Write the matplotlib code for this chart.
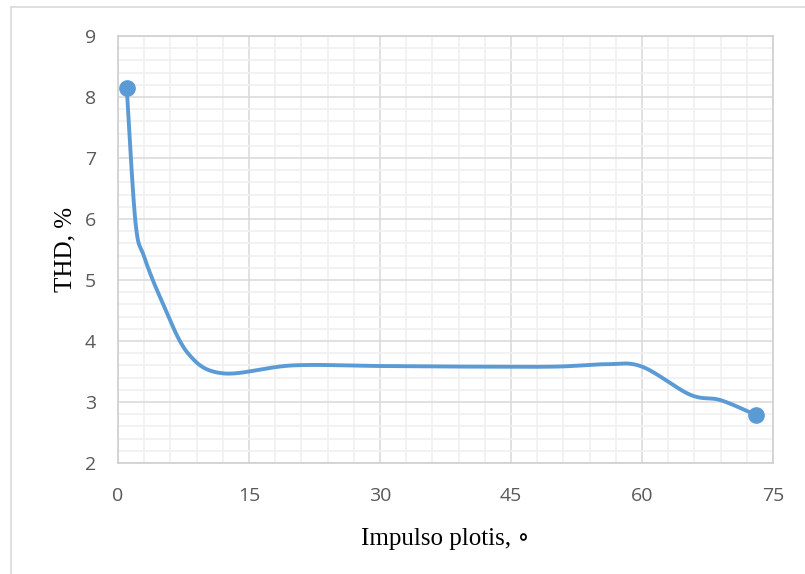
import numpy as np
import matplotlib.pyplot as plt
import matplotlib.patches as patches
from matplotlib.ticker import MultipleLocator

# data
angle = [1, 2, 3, 5, 8, 12, 20, 30, 40, 50, 56, 60, 65.5, 69, 73]
thd = [8.15, 5.95, 5.38, 4.66, 3.8, 3.47, 3.6, 3.59, 3.58, 3.58, 3.62, 3.58, 3.12, 3.03, 2.79]


def smooth(xs, ys, n=40):
    # Excel-like smoothed line (Catmull-Rom as cubic Bezier)
    p = np.column_stack([xs, ys]).astype(float)
    p = np.vstack([p[0], p, p[-1]])
    out = []
    t = np.linspace(0, 1, n)[:, None]
    for i in range(1, len(p) - 2):
        b0 = p[i]
        b1 = p[i] + (p[i + 1] - p[i - 1]) / 6
        b2 = p[i + 1] - (p[i + 2] - p[i]) / 6
        b3 = p[i + 1]
        seg = ((1 - t) ** 3) * b0 + 3 * ((1 - t) ** 2) * t * b1 + 3 * (1 - t) * t ** 2 * b2 + t ** 3 * b3
        out.append(seg)
    out = np.vstack(out)
    return out[:, 0], out[:, 1]


fig = plt.figure(figsize=(8.05, 5.74), dpi=100)
ax = fig.add_axes([118 / 805, 1 - 463 / 574, (773 - 118) / 805, (463 - 36) / 574])

# outer chart frame
fig.patches.append(patches.Rectangle((11 / 805, -0.05), 1.0, 1 - 7 / 574 + 0.05,
                                     transform=fig.transFigure, fill=False,
                                     edgecolor='#d9d9d9', linewidth=1.2))

sx, sy = smooth(angle, thd)
ax.plot(sx, sy, color='#5b9bd5', linewidth=2.8, solid_capstyle='round', zorder=3)
ax.plot([angle[0], angle[-1]], [thd[0], thd[-1]], 'o', color='#5b9bd5', markersize=11, zorder=4)

ax.set_xlim(0, 75)
ax.set_ylim(2, 9)
ax.xaxis.set_major_locator(MultipleLocator(15))
ax.xaxis.set_minor_locator(MultipleLocator(3))
ax.yaxis.set_major_locator(MultipleLocator(1))
ax.yaxis.set_minor_locator(MultipleLocator(0.2))
ax.grid(True, which='major', color='#d9d9d9', linewidth=1.1, zorder=1)
ax.grid(True, which='minor', color='#f0f0f0', linewidth=1.2, zorder=0)
ax.set_axisbelow(True)
for s in ax.spines.values():
    s.set_color('#d0d0d0')
    s.set_linewidth(1.2)
ax.tick_params(which='both', length=0)
ax.tick_params(axis='x', pad=17)
ax.tick_params(axis='y', pad=16)
for lab in ax.get_xticklabels() + ax.get_yticklabels():
    lab.set_fontfamily('Open Sans')
    lab.set_fontsize(14)
    lab.set_color('#595959')

ax.set_xlabel('Impulso plotis, \u2218', family=['Liberation Serif', 'DejaVu Serif'], fontsize=18, labelpad=17)
ax.set_ylabel('THD, %', family=['Liberation Serif', 'DejaVu Serif'], fontsize=18, labelpad=6)

fig.savefig('out.png', dpi=100)
